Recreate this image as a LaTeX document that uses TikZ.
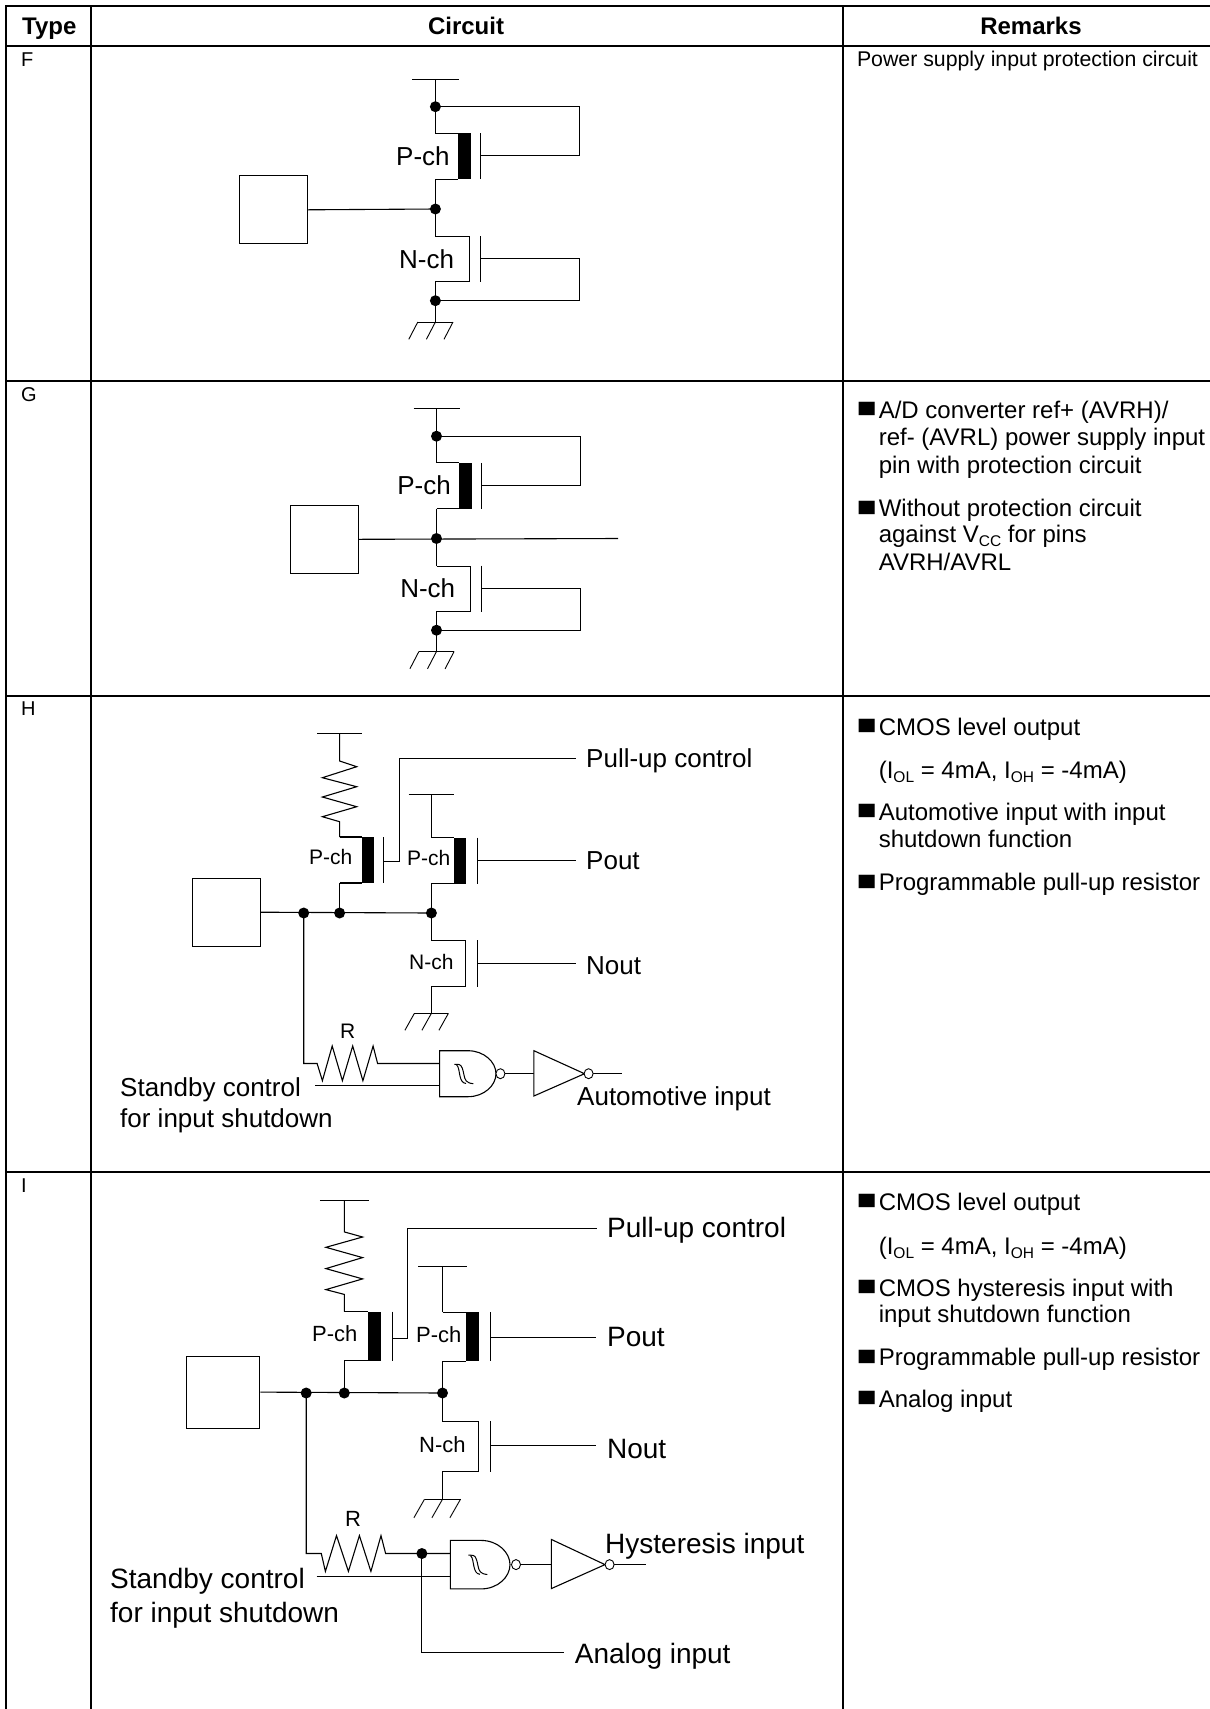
\documentclass[tikz,border=0pt]{standalone}
\usepackage{fontspec}
\setmainfont{Liberation Sans}
\newfontfamily\symf{DejaVu Sans}
\newcommand{\fsz}[1]{\fontsize{#1}{#1}\selectfont}
\newcommand{\lowsub}[1]{\raisebox{-0.16em}{\fontsize{15.5}{15.5}\selectfont #1}}
\newcommand{\squaremark}{\scalebox{1.2}[1]{\symf\fsz{17.5}■}}
\tikzset{
  x=1pt,y=-1pt,
  wire/.style={line width=1.1pt,black,line join=miter},
  thin wire/.style={line width=0.9pt,black},
  frame/.style={line width=2pt,black},
  junction/.style={circle,fill=black,inner sep=0pt,minimum width=11pt,minimum height=11pt},
  bubble/.style={ellipse,draw=black,line width=0.9pt,fill=white,inner sep=0pt,minimum width=9pt,minimum height=10pt},
  lbl/.style={inner sep=0pt,anchor=west,text height=#1*0.72pt,text depth=0pt,font=\fsz{#1}},
  hdr/.style={inner sep=0pt,text height=17.3pt,text depth=0pt,font=\fsz{24}\bfseries},
  typ/.style={inner sep=0pt,anchor=west,text height=14.4pt,text depth=0pt,font=\fsz{20}},
  rem/.style={inner sep=0pt,anchor=west,text height=17.3pt,text depth=0pt,font=\fsz{24}},
  sq/.style={inner sep=0pt,anchor=center},
  pin/.style={draw=black,line width=1pt,fill=white,inner sep=0pt,anchor=north west},
}
\usetikzlibrary{shapes.geometric}
% \pfet{x rail}{top}{bar left}{bar width}{gate x}{height}
\newcommand{\pfet}[6]{%
  \fill (#3,#2) rectangle ++(#4,#6);
  \draw[wire] (#1,#2) -- (#3,#2) (#1,#2+#6) -- (#3,#2+#6);
  \draw[thin wire] (#5,#2) -- ++(0,#6);
}
% \nfet{x rail}{top}{channel x}{gate x}{height}
\newcommand{\nfet}[5]{%
  \draw[wire] (#1,#2) -| (#3,#2+#5) -- (#1,#2+#5);
  \draw[thin wire] (#4,#2-0.5) -- ++(0,#5+1);
}
% \gnd{x}{y}{half-width}{drop}{slant}
\newcommand{\gnd}[5]{%
  \draw[thin wire] (#1-#3,#2) -- (#1+#3,#2);
  \draw[thin wire] (#1-#3,#2) -- ++(-#5,#4) (#1,#2) -- ++(-#5,#4) (#1+#3,#2) -- ++(-#5,#4);
}
\newcommand{\hyst}[2]{%
  \begin{scope}[shift={(#1,#2)}]
  \draw[line width=1pt] (-7.7,-9.7) -- (-3,-9.5) .. controls (0,-9) and (1,-4) .. (2,1) .. controls (3,6) and (4,9) .. (11.3,9.7);
  \draw[line width=1pt] (-5.5,-9.3) .. controls (-3,-7) and (-3,-2) .. (-2,2) .. controls (-1,6) and (0,9) .. (4,9.5);
  \end{scope}
}
\begin{document}
\begin{tikzpicture}
\useasboundingbox (0,0) rectangle (1210,1709);
\fill[white] (0,0) rectangle (1210,1709);

% table frame
\draw[frame] (1210,6) -- (6,6) -- (6,1709);
\draw[frame] (90.5,6) -- (90.5,1709);
\draw[frame] (843,6) -- (843,1709);
\draw[frame] (6,45.5) -- (1210,45.5);
\draw[frame] (6,380.5) -- (1210,380.5);
\draw[frame] (6,695.5) -- (1210,695.5);
\draw[frame] (6,1172) -- (1210,1172);

% header
\node[hdr,anchor=west] (hType) at (22,25.5) {Type};
\node[hdr] (hCircuit) at (466,25.5) {Circuit};
\node[hdr] (hRemarks) at (1031,25.5) {Remarks};

% type labels
\node[typ] (tF) at (21,59.5) {F};
\node[typ] (tG) at (21,394) {G};
\node[typ] (tH) at (21,708.5) {H};
\node[typ] (tI) at (21,1185) {I};

% ---------- F ----------
\begin{scope}[shift={(0,0)}]
\node[pin,minimum width=68pt,minimum height=68pt] (pinF) at (239.2,175.3) {};
\coordinate (fA) at (435.4,106.7);
\coordinate (fM) at (435.4,209);
\coordinate (fB) at (435.4,300.7);
\draw[thin wire] (412.4,79.3) -- (458.7,79.3);
\draw[wire] (435.4,79.3) -- (fA) -- (435.4,133.3);
\draw[wire] (435.4,179.3) -- (fM) -- (435.4,236.7);
\draw[wire] (435.4,281.7) -- (fB) -- (435.4,322);
\pfet{435.4}{133.3}{458}{12.5}{480}{46}
\nfet{435.4}{236.7}{469.7}{480.8}{45}
\draw[wire] (fA) -- (579.3,106.7) -- (579.3,155.7) -- (480,155.7);
\draw[wire] (fB) -- (579.3,300.7) -- (579.3,258.7) -- (480.8,258.7);
\draw[wire] (pinF.east) -- (fM);
\gnd{435.4}{322}{17.6}{17.3}{9}
\node[junction] at (fA) {};
\node[junction] at (fM) {};
\node[junction] at (fB) {};
\node[lbl=26] (fP) at (396,156) {P-ch};
\node[lbl=26] (fN) at (399,259) {N-ch};
\end{scope}

% ---------- G ----------
\begin{scope}[shift={(1.1,329.5)}]
\node[pin,minimum width=68pt,minimum height=68pt] (pinG) at (289,175.3) {};
\coordinate (gA) at (435.4,106.7);
\coordinate (gM) at (435.4,209);
\coordinate (gB) at (435.4,300.7);
\coordinate (gO) at (617,209);
\draw[thin wire] (412.4,79.3) -- (458.7,79.3);
\draw[wire] (435.4,79.3) -- (gA) -- (435.4,133.3);
\draw[wire] (435.4,179.3) -- (gM) -- (435.4,236.7);
\draw[wire] (435.4,281.7) -- (gB) -- (435.4,322);
\pfet{435.4}{133.3}{458}{12.5}{480}{46}
\nfet{435.4}{236.7}{469.7}{480.8}{45}
\draw[wire] (gA) -- (579.3,106.7) -- (579.3,155.7) -- (480,155.7);
\draw[wire] (gB) -- (579.3,300.7) -- (579.3,258.7) -- (480.8,258.7);
\draw[wire] (pinG.east) -- (gO);
\gnd{435.4}{322}{17.6}{17.3}{9}
\node[junction] at (gA) {};
\node[junction] at (gM) {};
\node[junction] at (gB) {};
\node[lbl=26] (gP) at (396,156) {P-ch};
\node[lbl=26] (gN) at (399,259) {N-ch};
\end{scope}

% ---------- H ----------
\node[pin,minimum width=68pt,minimum height=68pt] (pinH) at (191.8,877.7) {};
\coordinate (h1) at (303.7,913);
\coordinate (h2) at (339.6,913);
\coordinate (h3) at (431.4,913);
\draw[thin wire] (317.1,733) -- (362.4,733);
\draw[thin wire] (408.6,794) -- (454.3,794);
\draw[wire] (339.6,733) -- (339.6,761) -- (356.7,766.7) -- (322.4,777.7) -- (356.7,786.7) -- (322.4,797) -- (356.7,806.7) -- (322.4,816.7) -- (339.6,821.7) -- (339.6,837);
\pfet{339.6}{837}{362}{12.3}{383.3}{46}
\draw[wire] (339.6,883) -- (h2);
\draw[wire] (383.3,861.7) -- (399.6,861.7) -- (399.6,758.5) -- (576.3,758.5);
\draw[wire] (431.4,794) -- (431.4,837.7);
\pfet{431.4}{837.7}{453.9}{12.3}{477.1}{46}
\draw[wire] (431.4,883.7) -- (h3) -- (431.4,940.7);
\draw[wire] (477.1,860.5) -- (576.3,860.5);
\nfet{431.4}{940.7}{465.3}{477.1}{45.5}
\draw[wire] (431.4,986.2) -- (431.4,1013.3);
\draw[wire] (477.1,963.5) -- (576.3,963.5);
\gnd{431.4}{1013.3}{17}{17}{9.5}
\draw[wire] (pinH.east) -- (h3);
\draw[wire] (h1) -- (303.7,1063.5) -- (317.1,1063.5) -- (322.4,1080.7) -- (332.2,1046) -- (342.4,1080.7) -- (352.7,1046) -- (362.9,1080.7) -- (373.1,1046) -- (377.6,1063.5) -- (439.6,1063.5);
\draw[wire] (315.1,1085.5) -- (439.6,1085.5);
\draw[wire,fill=white] (439.6,1050.7) -- (468,1050.7) .. controls (484,1050.7) and (496,1062) .. (496,1073.7) .. controls (496,1085.5) and (484,1096.7) .. (468,1096.7) -- (439.6,1096.7) -- cycle;
\hyst{462}{1074}
\draw[wire] (505,1073.5) -- (533.9,1073.5);
\draw[wire,fill=white] (533.9,1050.7) -- (584.5,1073.7) -- (533.9,1096) -- cycle;
\draw[wire] (593,1073.5) -- (622.4,1073.5);
\node[bubble] (hb1) at (500.4,1073.7) {};
\node[bubble] (hb2) at (588.6,1073.7) {};
\node[junction] at (h1) {};
\node[junction] at (h2) {};
\node[junction] at (h3) {};
\node[lbl=26] (hPU) at (586,758) {Pull-up control};
\node[lbl=26] (hPO) at (586,860) {Pout};
\node[lbl=26] (hNO) at (586,965) {Nout};
\node[lbl=21] (hP1) at (309,857.3) {P-ch};
\node[lbl=21] (hP2) at (407,858) {P-ch};
\node[lbl=21] (hN1) at (409,961.7) {N-ch};
\node[lbl=21] (hR) at (340,1031) {R};
\node[lbl=26] (hAI) at (577,1095.7) {Automotive input};
\node[lbl=26] (hS1) at (120,1087) {Standby control};
\node[lbl=26] (hS2) at (120,1118.5) {for input shutdown};

% ---------- I ----------
\node[pin,minimum width=73pt,minimum height=72pt] (pinI) at (186.3,1355.6) {};
\coordinate (i1) at (306.2,1393);
\coordinate (i2) at (344.3,1393);
\coordinate (i3) at (442.5,1393);
\coordinate (i4) at (421.9,1553.5);
\draw[thin wire] (319.9,1200.6) -- (368.6,1200.6);
\draw[thin wire] (418.2,1266.2) -- (466.9,1266.2);
\draw[wire] (344.3,1200.6) -- (344.3,1231.9) -- (362.6,1237) -- (325.9,1247.3) -- (362.6,1257.6) -- (325.9,1268.6) -- (362.6,1278.9) -- (325.9,1289.6) -- (344.3,1294.4) -- (344.3,1311.6);
\pfet{344.3}{1311.6}{368.1}{12.9}{392}{49}
\draw[wire] (344.3,1360.6) -- (i2);
\draw[wire] (392,1338.5) -- (407.6,1338.5) -- (407.6,1228.5) -- (597.2,1228.5);
\draw[wire] (442.5,1266.2) -- (442.5,1312.3);
\pfet{442.5}{1312.3}{465.9}{13.3}{490.3}{49}
\draw[wire] (442.5,1361.3) -- (i3) -- (442.5,1421.9);
\draw[wire] (490.3,1337.5) -- (596.3,1337.5);
\nfet{442.5}{1421.9}{478.8}{490.3}{49.5}
\draw[wire] (442.5,1471.4) -- (442.5,1499.2);
\draw[wire] (490.3,1445.5) -- (596.3,1445.5);
\gnd{442.5}{1499.2}{18}{18.6}{10.6}
\draw[wire] (pinI.east) -- (i3);
\draw[wire] (i1) -- (306.2,1553.5) -- (321.3,1553.5) -- (325.4,1571.4) -- (336.5,1535.6) -- (348.4,1571.4) -- (359.4,1535.6) -- (370.9,1571.4) -- (381,1535.6) -- (385.6,1553.5) -- (450.3,1553.5);
\draw[wire] (316.7,1576.5) -- (450.3,1576.5);
\coordinate (iAn) at (563.7,1652.5);
\draw[wire] (i4) |- (iAn);
\draw[wire,fill=white] (450.3,1540.4) -- (481,1540.4) .. controls (498,1540.4) and (510,1552.5) .. (510,1564.6) .. controls (510,1576.8) and (498,1588.9) .. (481,1588.9) -- (450.3,1588.9) -- cycle;
\hyst{476}{1564.8}
\draw[wire] (520.5,1564.5) -- (551.3,1564.5);
\draw[wire,fill=white] (551.3,1539.4) -- (605,1564.6) -- (551.3,1588.6) -- cycle;
\draw[wire] (614,1564.5) -- (646.4,1564.5);
\node[bubble] (ib1) at (516,1564.6) {};
\node[bubble] (ib2) at (609.6,1564.6) {};
\node[junction] at (i1) {};
\node[junction] at (i2) {};
\node[junction] at (i3) {};
\node[junction] at (i4) {};
\node[lbl=28] (iPU) at (606.9,1227.7) {Pull-up control};
\node[lbl=28] (iPO) at (606.9,1336.7) {Pout};
\node[lbl=28] (iNO) at (606.9,1448.7) {Nout};
\node[lbl=22] (iP1) at (312,1333.9) {P-ch};
\node[lbl=22] (iP2) at (416,1335) {P-ch};
\node[lbl=22] (iN1) at (419,1444.9) {N-ch};
\node[lbl=22] (iR) at (345,1518.8) {R};
\node[lbl=28] (iHI) at (605,1543.5) {Hysteresis input};
\node[lbl=28] (iAI) at (574.7,1653.5) {Analog input};
\node[lbl=28] (iS1) at (110,1578) {Standby control};
\node[lbl=28] (iS2) at (110,1612.6) {for input shutdown};

% ---------- remarks ----------
\node[lbl=21.3] at (856.8,59) {Power supply input protection circuit};

\node[sq] at (866.7,409.4) {\squaremark};
\node[rem] at (878.6,409.4) {A/D converter ref+ (AVRH)/};
\node[rem] at (878.6,437) {ref- (AVRL) power supply input};
\node[rem] at (878.6,465) {pin with protection circuit};
\node[sq] at (866.7,507.5) {\squaremark};
\node[rem] at (878.6,507.5) {Without protection circuit};
\node[rem] at (878.6,534.3) {against V\lowsub{CC} for pins};
\node[rem] at (878.6,561.7) {AVRH/AVRL};

\node[sq] at (866.7,726.3) {\squaremark};
\node[rem] at (878.6,726.5) {CMOS level output};
\node[rem] at (878.6,769.6) {(I\lowsub{OL} = 4mA, I\lowsub{OH} = -4mA)};
\node[sq] at (866.7,811.3) {\squaremark};
\node[rem] at (878.6,811.5) {Automotive input with input};
\node[rem] at (878.6,839.3) {shutdown function};
\node[sq] at (866.7,881.5) {\squaremark};
\node[rem] at (878.6,882) {Programmable pull-up resistor};

\node[sq] at (866.7,1201.3) {\squaremark};
\node[rem] at (878.6,1201.5) {CMOS level output};
\node[rem] at (878.6,1246) {(I\lowsub{OL} = 4mA, I\lowsub{OH} = -4mA)};
\node[sq] at (866.7,1287.3) {\squaremark};
\node[rem] at (878.6,1287.5) {CMOS hysteresis input with};
\node[rem] at (878.6,1313.6) {input shutdown function};
\node[sq] at (866.7,1356.5) {\squaremark};
\node[rem] at (878.6,1357) {Programmable pull-up resistor};
\node[sq] at (866.7,1398.3) {\squaremark};
\node[rem] at (878.6,1398.7) {Analog input};
\end{tikzpicture}
\end{document}
